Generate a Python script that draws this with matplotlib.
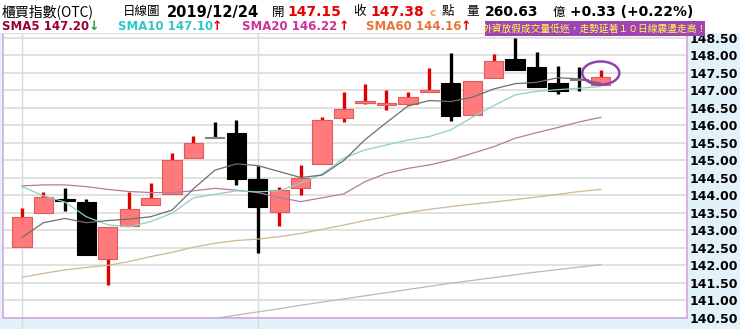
import numpy as np
import matplotlib
matplotlib.use("Agg")
import matplotlib.pyplot as plt
from matplotlib.patches import Rectangle, Ellipse

# daily candles, OTC index (櫃買指數), last day 2019/12/24
opens  = [142.52, 143.48, 143.90, 143.81, 142.16, 143.11, 143.71, 144.02, 145.05, 145.62,
          145.78, 144.45, 143.52, 144.21, 144.88, 146.19, 146.63, 146.59, 146.60, 146.96,
          147.19, 146.29, 147.33, 147.88, 147.65, 147.19, 147.30, 147.15]
closes = [143.38, 143.93, 143.82, 142.29, 143.09, 143.59, 143.92, 145.00, 145.48, 145.62,
          144.45, 143.65, 144.14, 144.49, 146.14, 146.46, 146.67, 146.62, 146.81, 146.99,
          146.27, 147.26, 147.83, 147.57, 147.10, 146.97, 147.30, 147.38]
highs  = [143.62, 144.10, 144.19, 143.90, 143.09, 144.08, 144.33, 145.19, 145.69, 146.10,
          146.14, 144.83, 144.22, 144.86, 146.24, 146.95, 147.16, 147.00, 146.93, 147.62,
          148.07, 147.27, 148.02, 148.48, 148.08, 147.69, 147.67, 147.58]
lows   = [142.52, 143.48, 143.55, 142.29, 141.43, 143.11, 143.71, 144.02, 145.05, 145.62,
          144.29, 142.33, 143.11, 144.00, 144.88, 146.09, 146.60, 146.43, 146.57, 146.96,
          146.12, 146.29, 147.33, 147.57, 147.10, 146.88, 146.97, 147.15]

sma5  = [142.79, 143.21, 143.33, 143.21, 143.27, 143.31, 143.38, 143.57, 144.18, 144.71,
         144.89, 144.84, 144.67, 144.50, 144.57, 144.98, 145.58, 146.07, 146.54, 146.70,
         146.67, 146.79, 147.03, 147.18, 147.22, 147.35, 147.32, 147.20]
sma10 = [144.24, 143.98, 143.80, 143.38, 143.15, 143.09, 143.24, 143.48, 143.92, 144.02,
         144.12, 144.09, 144.12, 144.34, 144.60, 145.05, 145.29, 145.43, 145.57, 145.67,
         145.86, 146.22, 146.55, 146.86, 146.96, 147.01, 147.05, 147.10]
sma20 = [144.26, 144.29, 144.29, 144.24, 144.16, 144.10, 144.07, 144.07, 144.12, 144.19,
         144.14, 144.07, 143.93, 143.81, 143.92, 144.03, 144.38, 144.62, 144.76, 144.86,
         145.00, 145.19, 145.38, 145.62, 145.78, 145.93, 146.09, 146.22]
sma60 = [141.65, 141.76, 141.86, 141.93, 141.99, 142.10, 142.24, 142.36, 142.51, 142.62,
         142.70, 142.74, 142.81, 142.90, 143.02, 143.14, 143.27, 143.38, 143.50, 143.59,
         143.67, 143.74, 143.80, 143.87, 143.94, 144.02, 144.10, 144.16]
nan = np.nan
long_ma = [nan, nan, nan, nan, nan, nan, nan, nan, 140.37, 140.47,
           140.57, 140.66, 140.75, 140.85, 140.94, 141.03, 141.12, 141.21, 141.30, 141.39,
           141.48, 141.56, 141.64, 141.72, 141.80, 141.87, 141.94, 142.01]

yticks = np.arange(140.5, 148.51, 0.5)

W, H = 740, 329
def fx(x):
    return x / W
def fy(y):
    return 1 - y / H

fig = plt.figure(figsize=(7.4, 3.29), dpi=100, facecolor='#E2F1FA')
# white header strip
fig.patches.append(Rectangle((0, fy(33)), 1, 33 / H, transform=fig.transFigure,
                             facecolor='white', edgecolor='none', zorder=0))

ax = fig.add_axes([fx(3), 11 / H, (687 - 3) / W, (318 - 33) / H])
ax.set_facecolor('white')
ax.set_xlim(-0.886, 31.02)
ax.set_ylim(140.486, 148.629)

ax.set_yticks(yticks)
ax.set_yticklabels(['%.2f' % v for v in yticks], fontsize=9, fontweight='bold')
ax.yaxis.tick_right()
ax.tick_params(axis='y', length=0, pad=2)
ax.set_xticks([])
ax.grid(axis='y', color='#DCDCDC', lw=1.2, zorder=0)
for s in ['left', 'bottom', 'right']:
    ax.spines[s].set_color('#D4A8D8')
    ax.spines[s].set_linewidth(1.2)
ax.spines['top'].set_color('#DDDDDD')

# month separators
for xv in [0, 11]:
    ax.axvline(xv, ymin=-11 / 285, ymax=1, color='#D5DCE0', lw=1, clip_on=False, zorder=1)

x = np.arange(len(opens))
for i in x:
    o, c, h, l = opens[i], closes[i], highs[i], lows[i]
    if c > o:
        face, edge, wick = '#FF7B7B', '#E05A5A', '#E00000'
    elif c < o:
        face, edge, wick = 'black', 'black', 'black'
    else:
        face, edge, wick = None, None, 'black'
    ax.vlines(i, l, h, color=wick, lw=2.4, zorder=2)
    if face is None:
        ax.hlines(o, i - 0.45, i + 0.45, color='#808080', lw=1.5, zorder=3)
        continue
    hgt = abs(c - o)
    bot = min(o, c)
    if hgt < 0.05:
        bot -= (0.05 - hgt) / 2
        hgt = 0.05
    ax.bar(i, hgt, 0.9, bottom=bot, color=face, edgecolor=edge, lw=0.8, zorder=3)

ax.plot(x, long_ma, color='#B8B8B8', lw=0.9, zorder=4)
ax.plot(x, sma60, color='#CDB892', lw=0.9, zorder=4)
ax.plot(x, sma20, color='#B07CA4', lw=0.9, zorder=4)
ax.plot(x, sma10, color='#86D2C6', lw=0.9, zorder=4)
ax.plot(x, sma5, color='#6E6E6E', lw=0.9, zorder=4)

ax.add_patch(Ellipse((27, 147.486), 1.73, 0.66, fill=False, edgecolor='#8E44AD', lw=1.8, zorder=6))

cjk = ['Noto Sans CJK TC', 'DejaVu Sans']

def put(xp, yp, s, **kw):
    kw.setdefault('va', 'center')
    kw.setdefault('ha', 'left')
    fig.text(fx(xp), fy(yp), s, **kw)

# header row 1
put(2, 12, '櫃買指數(OTC)', family=cjk, fontsize=10)
put(123, 12, '日線圖', family=cjk, fontsize=9)
put(167, 12, '2019/12/24', fontsize=10.5, fontweight='bold')
put(272, 12, '開', family=cjk, fontsize=9)
put(287, 12, '147.15', fontsize=10, fontweight='bold', color='#E60000')
put(353, 12, '收', family=cjk, fontsize=9)
put(370, 12, '147.38', fontsize=10, fontweight='bold', color='#E60000')
put(429, 13, 'c', fontsize=7.5, fontweight='bold', color='#E8A33D')
put(442, 12, '點', family=cjk, fontsize=9)
put(466, 12, '量', family=cjk, fontsize=9)
put(485, 12, '260.63', fontsize=10, fontweight='bold')
put(553, 12, '億', family=cjk, fontsize=9)
put(570, 12, '+0.33 (+0.22%)', fontsize=10, fontweight='bold')

# header row 2
put(2, 27, 'SMA5 147.20', fontsize=8.5, fontweight='bold', color='#990033')
put(89, 27, '↓', fontsize=9, fontweight='bold', color='#2E9A3A')
put(118, 27, 'SMA10 147.10', fontsize=8.5, fontweight='bold', color='#33C6C6')
put(212, 27, '↑', fontsize=9, fontweight='bold', color='#E00000')
put(242, 27, 'SMA20 146.22', fontsize=8.5, fontweight='bold', color='#CC3399')
put(339, 27, '↑', fontsize=9, fontweight='bold', color='#E00000')
put(366, 27, 'SMA60 144.16', fontsize=8.5, fontweight='bold', color='#E8743B')
put(461, 27, '↑', fontsize=9, fontweight='bold', color='#E00000')

fig.patches.append(Rectangle((fx(485), fy(36)), 220 / W, 15 / H, transform=fig.transFigure,
                             facecolor='#A043B6', edgecolor='none', zorder=10))
fig.text(fx(595), fy(28.5), '外資放假成交量低迷，走勢延著１０日線震盪走高！', family=cjk,
         fontsize=7, color='#FFFF40', ha='center', va='center', zorder=11)

fig.savefig('out.png', dpi=100, facecolor=fig.get_facecolor())
